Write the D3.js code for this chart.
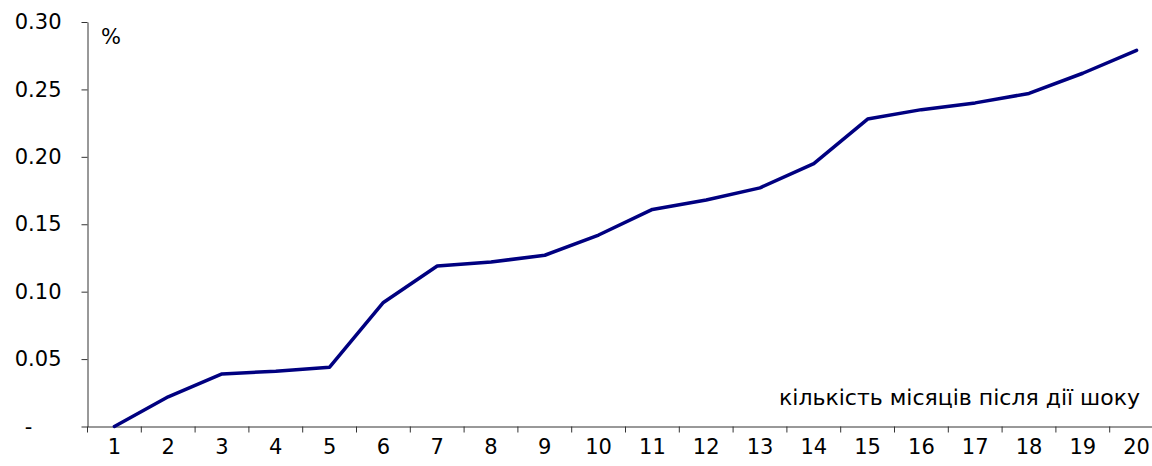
<!DOCTYPE html>
<html>
<head>
<meta charset="utf-8">
<script src="https://cdn.jsdelivr.net/npm/d3@7"></script>
<style>
  body { margin: 0; background: #fff; }
  svg text { font-family: "DejaVu Sans", Verdana, sans-serif; }
</style>
</head>
<body>
<div id="chart"></div>
<script>
var months = [1, 2, 3, 4, 5, 6, 7, 8, 9, 10, 11, 12, 13, 14, 15, 16, 17, 18, 19, 20];
var response = [0.000, 0.022, 0.039, 0.041, 0.044, 0.092, 0.119, 0.122, 0.127, 0.142,
                0.161, 0.168, 0.177, 0.195, 0.228, 0.235, 0.240, 0.247, 0.262, 0.279];
var yTicks = [0, 0.05, 0.10, 0.15, 0.20, 0.25, 0.30];

var width = 1152, height = 466;
var plotLeft = 87.5, plotTop = 22, plotBottom = 426.5, step = 53.8;

var svg = d3.select("#chart").append("svg")
  .attr("width", width)
  .attr("height", height)
  .style("display", "block");

var x = d3.scaleBand()
  .domain(months)
  .range([plotLeft, plotLeft + months.length * step]);

var y = d3.scaleLinear()
  .domain([0, 0.30])
  .range([plotBottom, plotTop]);

// y axis
var yAxis = svg.append("g")
  .attr("transform", "translate(" + plotLeft + ",0)")
  .call(d3.axisLeft(y)
    .tickValues(yTicks)
    .tickSize(6)
    .tickSizeOuter(0)
    .tickPadding(20)
    .tickFormat(function(d) { return d === 0 ? "-" : d3.format(".2f")(d); }));

yAxis.selectAll("text")
  .attr("fill", "#000")
  .style("font-size", "21px")
  .filter(function(d) { return d === 0; })
  .attr("x", -59)
  .attr("text-anchor", "middle");

// x axis: labels at category centres, ticks on the boundaries
var xAxis = svg.append("g")
  .attr("transform", "translate(0," + plotBottom + ")")
  .call(d3.axisBottom(x)
    .tickSize(0)
    .tickSizeOuter(0)
    .tickPadding(13));

xAxis.selectAll("text")
  .attr("fill", "#000")
  .style("font-size", "21px");

xAxis.selectAll(".bound")
  .data(months)
  .enter().append("line")
  .attr("class", "bound")
  .attr("x1", function(d) { return x(d); })
  .attr("x2", function(d) { return x(d); })
  .attr("y1", 0)
  .attr("y2", 6)
  .attr("stroke", "currentColor");

svg.selectAll(".domain, .tick line, .bound").attr("stroke", "#333");

// units and axis title
svg.append("text")
  .attr("x", 101)
  .attr("y", 44)
  .style("font-size", "21px")
  .text("%");

svg.append("text")
  .attr("x", 1140)
  .attr("y", 405)
  .attr("text-anchor", "end")
  .style("font-size", "22px")
  .text("кількість місяців після дії шоку");

// series line
var line = d3.line()
  .x(function(d, i) { return x(months[i]) + x.bandwidth() / 2; })
  .y(function(d) { return y(d); });

svg.append("path")
  .datum(response)
  .attr("fill", "none")
  .attr("stroke", "#000080")
  .attr("stroke-width", 3.5)
  .attr("stroke-linejoin", "round")
  .attr("stroke-linecap", "round")
  .attr("d", line);
</script>
</body>
</html>
